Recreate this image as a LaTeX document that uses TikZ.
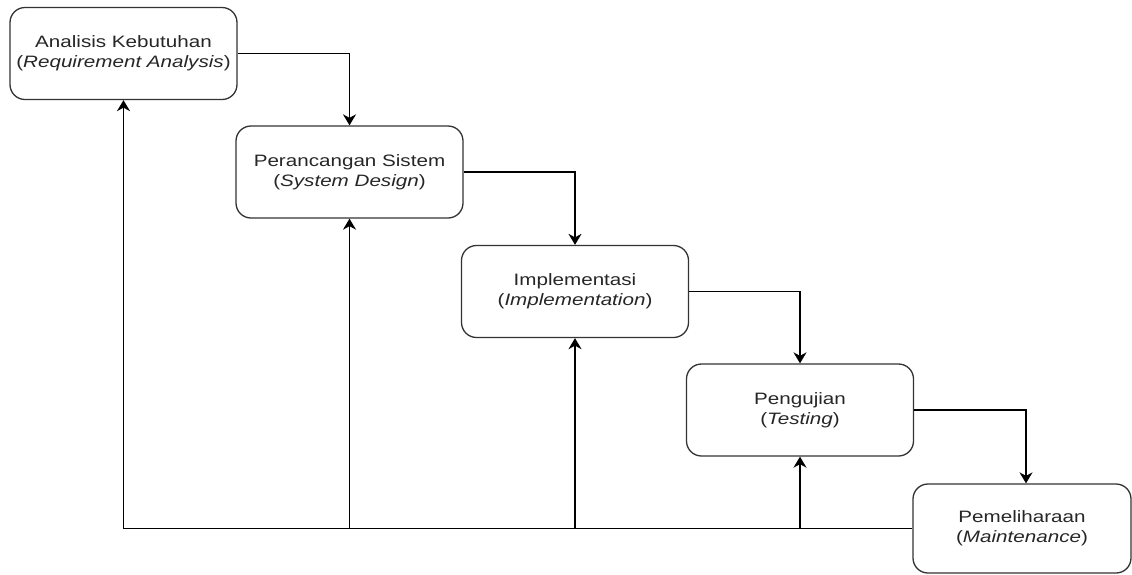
\documentclass[tikz,border=0pt]{standalone}
\usepackage{fontspec}
\setmainfont{Liberation Sans}[FakeStretch=1.25]
\usetikzlibrary{arrows.meta}
\newcommand{\tahap}[4]{\node[tahapbox] (#1) at (#2,#3) {#4};}

\begin{document}
\begin{tikzpicture}[x=1pt,y=-1pt,
		tahapbox/.style={draw=black!80,line width=1.3pt,rounded corners=15pt,
			minimum width=227pt,minimum height=92pt,inner sep=0pt,align=center,
			text=black!85,font=\fontsize{16.5}{20}\selectfont},
		alur/.style={line width=1.5pt,-{Stealth[length=11pt,width=13pt,inset=3.5pt]}}]
			\useasboundingbox (0,0) rectangle (1132,574);
			\tahap{analisis}{123.5}{53.5}{Analisis Kebutuhan\\(\textit{Requirement Analysis})};
			\tahap{rancang}{349.5}{172}{Perancangan Sistem\\(\textit{System Design})};
			\tahap{implementasi}{575}{291.5}{Implementasi\\(\textit{Implementation})};
			\tahap{uji}{800}{410}{Pengujian\\(\textit{Testing})};
			\node[tahapbox,minimum width=218pt,minimum height=89pt] (pelihara) at (1022,528.5)
				{Pemeliharaan\\(\textit{Maintenance})};
			% alur maju
			\draw[alur] (analisis.east) -| (rancang.north);
			\draw[alur] (rancang.east) -| (implementasi.north);
			\draw[alur] (implementasi.east) -| (uji.north);
			\draw[alur] (uji.east) -| ([xshift=4pt]pelihara.north);
			% alur balik
			\draw[alur] (pelihara.west) -| (analisis.south);
			\foreach \t in {rancang,implementasi,uji} {
				\draw[alur] (pelihara.west -| \t.south) -- (\t.south);
			}
		\end{tikzpicture}
\end{document}
